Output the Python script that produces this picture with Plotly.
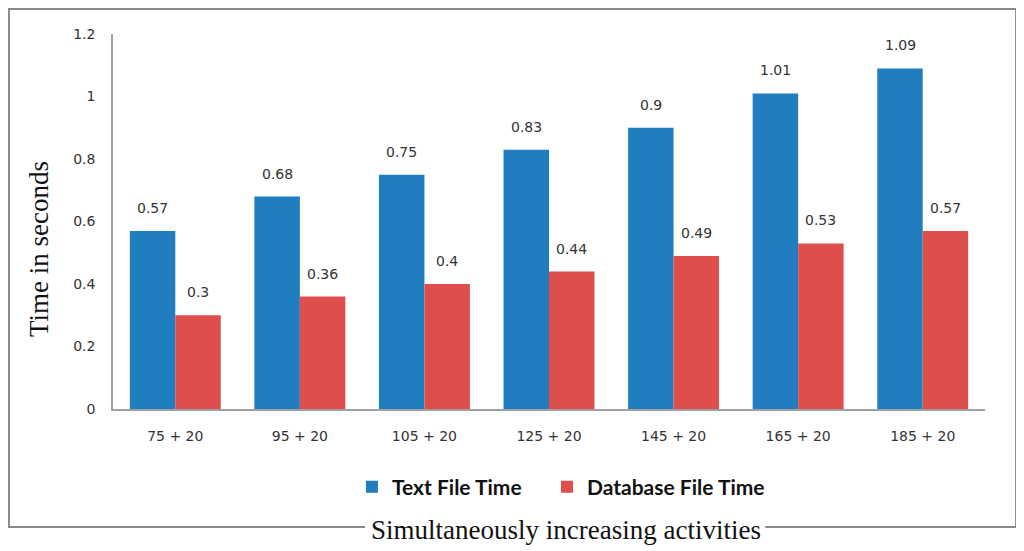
import plotly.graph_objects as go

categories = ["75 + 20", "95 + 20", "105 + 20", "125 + 20", "145 + 20", "165 + 20", "185 + 20"]
text_file_time = [0.57, 0.68, 0.75, 0.83, 0.9, 1.01, 1.09]
database_file_time = [0.3, 0.36, 0.4, 0.44, 0.49, 0.53, 0.57]
y_ticks = [0, 0.2, 0.4, 0.6, 0.8, 1, 1.2]
y_tick_labels = ["0", "0.2", "0.4", "0.6", "0.8", "1", "1.2"]

BLUE = "#1F7DC0"
RED = "#DD4E4C"
LABEL_FONT = dict(family="DejaVu Sans", size=14, color="#333333")
LEGEND_FONT = dict(family="Lato", size=21, color="#111111", weight="bold")

fig = go.Figure()
fig.add_trace(go.Bar(x=categories, y=text_file_time, name="Text File Time",
                     marker=dict(color=BLUE, line=dict(width=0)), legend="legend"))
fig.add_trace(go.Bar(x=categories, y=database_file_time, name="Database File Time",
                     marker=dict(color=RED, line=dict(width=0)), legend="legend2"))

ann = []
for c, v in zip(categories, text_file_time):
    ann.append(dict(x=c, y=v, xref="x", yref="y", text=f"{v:g}", showarrow=False,
                    xshift=-22.5, yshift=23, font=LABEL_FONT))
for c, v in zip(categories, database_file_time):
    ann.append(dict(x=c, y=v, xref="x", yref="y", text=f"{v:g}", showarrow=False,
                    xshift=22.5, yshift=23, font=LABEL_FONT))

ann.append(dict(x=0.519, y=-0.3227, xref="paper", yref="paper", text="Simultaneously increasing activities",
                showarrow=False, xanchor="center", yanchor="middle",
                font=dict(family="Liberation Serif", size=27, color="#111111")))
ann.append(dict(x=-0.0849, y=0.4267, xref="paper", yref="paper", text="Time in seconds",
                showarrow=False, xanchor="center", yanchor="middle", textangle=-90,
                font=dict(family="Liberation Serif", size=27, color="#111111")))

L, R, T, B = -0.1193, 1.0356, 1.0667, -0.3147
gl, gr = 0.289, 0.748
shapes = [
    dict(type="path", xref="paper", yref="paper",
         path=f"M {gl} {B} L {L} {B} L {L} {T} L {R} {T} L {R} {B} L {gr} {B}",
         line=dict(color="#8a8a8a", width=2)),
]

fig.update_layout(
    width=1016, height=543,
    margin=dict(l=105, r=39, t=26, b=142),
    paper_bgcolor="white", plot_bgcolor="white",
    barmode="group", bargap=0.27, bargroupgap=0,
    showlegend=True,
    legend=dict(orientation="h", x=0.274, xanchor="left", y=-0.208, yanchor="middle",
                font=LEGEND_FONT, itemwidth=30, bgcolor="rgba(0,0,0,0)"),
    legend2=dict(orientation="h", x=0.4977, xanchor="left", y=-0.208, yanchor="middle",
                 font=LEGEND_FONT, itemwidth=30, bgcolor="rgba(0,0,0,0)"),
    annotations=ann,
    shapes=shapes,
    xaxis=dict(showline=True, linecolor="#a0a0a0", linewidth=1.5, showgrid=False,
               ticks="", ticklabelstandoff=13, fixedrange=True,
               tickfont=dict(family="DejaVu Sans", size=14, color="#333333")),
    yaxis=dict(range=[0, 1.2], tickvals=y_ticks, ticktext=y_tick_labels,
               showline=True, linecolor="#a0a0a0", linewidth=1.5, showgrid=False, zeroline=False,
               ticks="", ticklabelstandoff=13, fixedrange=True,
               tickfont=dict(family="DejaVu Sans", size=14, color="#333333")),
)

fig.write_html("out.html")
